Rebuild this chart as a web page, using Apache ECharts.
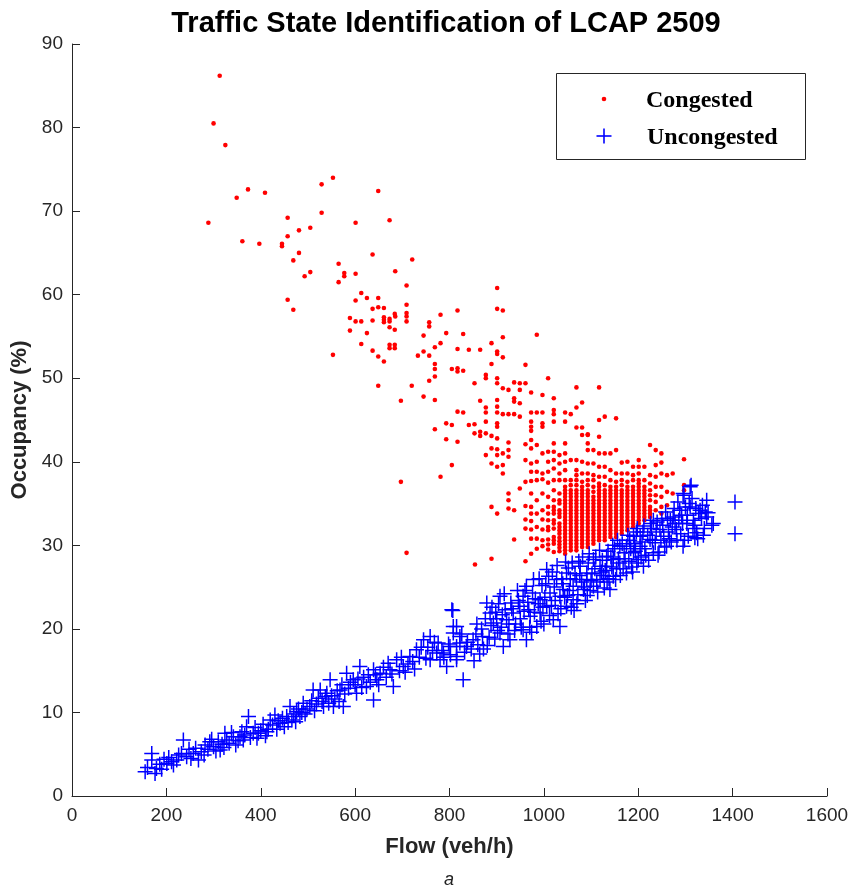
<!DOCTYPE html>
<html>
<head>
<meta charset="utf-8">
<script src="https://cdn.jsdelivr.net/npm/echarts@6/dist/echarts.min.js"></script>
<style>
  html, body { margin: 0; padding: 0; background: #fff; }
  #chart { width: 852px; height: 892px; }
</style>
</head>
<body>
<div id="chart"></div>
<script>
// tick labels
var flowTicks = [0, 200, 400, 600, 800, 1000, 1200, 1400, 1600];
var occTicks = [0, 10, 20, 30, 40, 50, 60, 70, 80, 90];
var legendNames = ['Congested', 'Uncongested'];

// congested points, scattered part [flow, occupancy]
var congestedSparse = [
  [313,86.2],[300,80.5],[325,77.9],[373,72.6],[349,71.6],[409,72.2],[289,68.6],[361,66.4],[397,66.1],
  [553,74.0],[529,73.2],[649,72.4],[457,69.2],[529,69.8],[601,68.6],[673,68.9],[481,67.7],[505,68.0],
  [457,67.0],[445,66.1],[445,65.8],[481,65.0],[469,64.1],[637,64.8],[721,64.2],[565,63.7],[685,62.8],
  [493,62.2],[505,62.7],[577,62.6],[577,62.2],[601,62.5],[565,61.5],[709,61.1],[901,60.8],[613,60.2],
  [457,59.4],[625,59.6],[649,59.6],[601,59.3],[709,58.8],[469,58.2],[637,58.3],[649,58.5],[661,58.4],
  [901,58.3],[913,58.1],[817,58.1],[781,57.6],[589,57.2],[601,56.8],[613,56.8],[637,56.9],[661,57.0],
  [673,57.1],[685,57.4],[709,57.4],[709,56.8],[709,57.8],
  [553,52.8],[589,55.7],[613,54.1],[625,55.4],[637,53.3],[649,52.6],[649,49.1],
  [661,57.3],[661,56.7],[684,57.7],[673,56.8],[673,56.1],[684,55.8],[673,54.0],[673,53.6],[684,54.0],
  [684,53.6],[661,52.0],[757,56.7],[757,56.2],[745,55.1],[793,55.4],[829,55.3],[913,54.9],[985,55.2],
  [781,54.2],[769,53.7],[745,53.2],[733,52.7],[757,52.7],[817,53.5],[841,53.4],[865,53.4],[889,54.2],
  [901,53.2],[901,52.9],[913,52.5],[889,51.7],[961,51.6],[769,51.7],[769,51.1],[757,49.7],[769,50.2],
  [805,51.1],[817,51.2],[817,50.8],[829,50.9],[720,49.1],[697,47.3],[745,47.8],[769,47.4],
  [853,49.4],[877,50.0],[877,50.4],[901,50.0],[901,49.4],[913,48.8],[925,48.6],[937,49.5],[949,49.4],
  [949,48.6],[961,49.4],[1009,50.0],[1069,48.9],[1117,48.9],
  [865,47.3],[877,46.5],[901,46.6],[901,47.4],[937,47.6],[937,47.2],[949,47.0],[973,48.3],[997,48.0],
  [1021,47.6],[1021,46.2],[1069,46.5],[1081,47.1],
  [817,46.0],[829,45.9],[877,45.9],[877,44.8],[901,45.9],[901,44.6],[901,44.2],[913,45.7],[925,45.7],
  [937,45.7],[949,45.4],[973,45.9],[973,44.8],[973,44.2],[973,43.7],[985,45.9],[997,45.9],[997,44.6],
  [997,44.2],[1021,45.7],[1021,44.8],[1045,45.9],[1045,44.8],[1057,45.7],[1069,44.1],[1081,44.1],
  [1081,43.2],[1093,43.3],[1117,45.0],[1129,45.4],[1153,45.2],
  [769,43.9],[793,44.6],[805,44.4],[793,42.7],[817,42.4],[805,39.6],[781,38.2],
  [841,44.4],[853,44.5],[853,43.4],[865,43.1],[865,43.6],[877,43.4],[889,43.1],[901,42.8],
  [901,41.5],[889,41.6],[901,40.8],[877,40.8],[889,39.8],[901,39.4],[913,39.6],
  [925,42.3],[925,41.4],[925,40.6],[913,41.0],[913,38.6],
  [709,29.1],[889,28.4],[697,37.6],[854,27.7],[889,34.6],[901,33.8],[925,36.2],[925,35.4],[925,34.4],
  [937,34.2],[949,36.8],[937,30.7]
];

// congested points, dense columns: flow of each column and its occupancies
var congestedColFlow = [961, 973, 985, 997, 1009, 1021, 1033, 1045, 1057, 1069, 1081, 1093, 1105,
  1117, 1129, 1141, 1153, 1165, 1177, 1189, 1201, 1213, 1225, 1237, 1249, 1261, 1273, 1297];
var congestedColOcc = [
  [42.1, 40.2, 37.6, 34.7, 33.1, 32.0, 28.1],
  [42.6, 41.6, 39.8, 38.8, 37.7, 36.2, 34.6, 33.8, 32.9, 31.9, 30.8, 29.0],
  [42.0, 40.0, 38.8, 37.8, 35.4, 33.8, 32.2, 30.8, 29.6],
  [41.0, 38.6, 37.9, 36.2, 34.2, 33.1, 31.9, 30.6, 29.9],
  [41.2, 40.0, 38.8, 37.5, 35.8, 34.6, 33.8, 33.0, 32.2, 31.8, 30.7, 30.1, 29.5],
  [42.2, 41.2, 40.2, 39.2, 37.8, 36.6, 35.4, 34.6, 34.2, 33.8, 33.0, 32.6, 32.0, 31.0, 30.6, 30.2, 29.2],
  [40.8, 39.8, 38.6, 37.8, 36.2, 35.4, 35.0, 34.2, 33.8, 33.4, 32.6, 32.2, 31.8, 31.4, 30.9, 30.5, 30.1, 29.7, 29.3],
  [42.2, 41.0, 40.0, 39.0, 37.8, 37.0, 36.6, 36.2, 35.8, 35.4, 35.0, 34.6, 34.2, 33.8, 33.4, 33.0, 32.6, 32.2, 31.8, 31.4, 31.0, 30.6, 30.2, 29.8, 29.4, 29.0],
  [40.2, 37.8, 37.2, 36.6, 36.2, 35.8, 35.4, 35.0, 34.6, 34.2, 33.8, 33.4, 33.0, 32.6, 32.2, 31.8, 31.4, 31.0, 30.6, 30.2, 29.8, 29.4],
  [40.2, 39.0, 38.4, 37.8, 37.2, 36.6, 36.2, 35.8, 35.4, 35.0, 34.6, 34.2, 33.8, 33.4, 33.0, 32.6, 32.2, 31.8, 31.4, 31.0, 30.6, 30.2, 29.8, 29.4],
  [40.0, 38.6, 37.6, 37.0, 36.6, 36.2, 35.8, 35.4, 35.0, 34.6, 34.2, 33.8, 33.4, 33.0, 32.6, 32.2, 31.8, 31.4, 31.0, 30.6, 30.2, 29.8],
  [43.2, 42.2, 41.4, 39.8, 38.6, 37.8, 37.2, 36.6, 36.2, 35.8, 35.4, 35.0, 34.6, 34.2, 33.8, 33.4, 33.0, 32.6, 32.2, 31.8, 31.4, 31.0, 30.6, 30.2, 29.8],
  [41.4, 39.8, 38.4, 37.8, 37.0, 36.4, 35.8, 35.4, 35.0, 34.6, 34.2, 33.8, 33.4, 33.0, 32.6, 32.2, 31.8, 31.4, 31.0, 30.6, 30.2],
  [43.0, 41.0, 39.4, 38.2, 37.4, 37.0, 36.6, 36.2, 35.8, 35.4, 35.0, 34.6, 34.2, 33.8, 33.4, 33.0, 32.6, 32.2, 31.8, 31.4, 31.0, 30.6],
  [41.0, 39.4, 38.2, 37.2, 36.6, 36.2, 35.8, 35.4, 35.0, 34.6, 34.2, 33.8, 33.4, 33.0, 32.6, 32.2, 31.8, 31.4, 31.0, 30.6],
  [41.0, 39.0, 37.8, 37.0, 36.6, 36.2, 35.8, 35.4, 35.0, 34.6, 34.2, 33.8, 33.4, 33.0, 32.6, 32.2, 31.8, 31.4, 31.0],
  [41.4, 38.6, 37.6, 37.0, 36.6, 36.2, 35.8, 35.4, 35.0, 34.6, 34.2, 33.8, 33.4, 33.0, 32.6, 32.2, 31.8, 31.4, 31.0],
  [39.9, 38.6, 37.8, 37.2, 36.6, 36.2, 35.8, 35.4, 35.0, 34.6, 34.2, 33.8, 33.4, 33.0, 32.6, 32.2, 31.8, 31.4],
  [40.0, 38.6, 37.6, 37.0, 36.6, 36.2, 35.8, 35.4, 35.0, 34.6, 34.2, 33.8, 33.4, 33.0, 32.6, 32.2, 31.8],
  [39.4, 38.4, 37.8, 37.0, 36.6, 36.2, 35.8, 35.4, 35.0, 34.6, 34.2, 33.8, 33.4, 33.0, 32.6, 32.2],
  [40.2, 39.4, 38.6, 37.8, 37.4, 37.0, 36.6, 36.2, 35.8, 35.4, 35.0, 34.6, 34.2, 33.8, 33.4, 33.0, 32.6],
  [39.4, 37.8, 37.0, 36.6, 36.2, 35.8, 35.4, 35.0, 34.6, 34.2, 33.8, 33.4, 33.0],
  [42.0, 38.4, 37.4, 36.6, 36.0, 35.4, 34.6, 34.2, 33.8, 33.4],
  [41.4, 39.6, 38.2, 37.0, 36.0, 35.2, 34.2],
  [41.0, 39.9, 38.6, 37.0, 35.8, 34.6, 33.8],
  [38.4, 36.4, 34.8],
  [38.6, 36.2],
  [40.3, 37.2, 36.6]
];

// uncongested points [flow, occupancy]
var uncongested = [
  [155,2.9],[169,5.1],[169,4.3],[179,3.3],[176,2.7],[201,3.9],[211,4.1],[222,4.3],[236,6.7],[232,5.1],
  [243,4.7],[257,5.1],[268,4.3],[282,6.1],[292,6.5],[300,5.9],[314,5.5],[310,6.5],[324,7.5],[328,6.7],
  [342,7.1],[356,7.1],[363,6.7],[374,9.5],[370,8.3],[384,7.5],[395,7.5],[413,7.7],[420,9.1],[430,9.7],
  [441,8.7],[455,9.5],[462,10.7],[476,10.1],[490,11.1],[483,9.5],[504,10.7],[511,12.7],[526,12.7],
  [540,12.3],[547,13.9],[533,10.7],[554,10.7],[568,12.7],[575,10.7],[582,14.7],[596,13.9],[610,15.5],
  [603,12.3],[624,13.1],[639,15.1],[646,13.9],[639,11.5],[653,14.7],[674,15.1],[688,16.3],[681,13.1],
  [702,15.5],[716,16.7],[730,17.5],[745,18.7],[759,19.1],[759,16.3],[773,17.1],[780,16.3],[794,15.5],
  [805,22.3],[808,20.3],[815,17.9],[815,16.7],
  [160,3.4],[186,3.8],[190,3.2],[195,4.4],[205,4.6],[215,3.7],[226,4.9],[248,5.6],[252,4.5],[262,5.7],
  [274,5.3],[280,4.9],[288,5.6],[296,6.8],[305,5.4],[318,6.2],[322,5.8],[333,6.3],[338,7.6],[347,6.1],
  [352,6.6],[360,7.7],[366,7.3],[378,7.0],[388,8.2],[392,6.9],[400,7.8],[405,8.6],[410,7.2],[416,8.0],
  [425,8.5],[434,8.0],[437,9.0],[446,9.3],[450,8.3],[458,8.8],[466,9.1],[470,9.8],[474,8.9],[480,10.4],
  [487,10.0],[494,9.8],[498,10.4],[508,11.4],[514,10.2],[518,11.0],[522,11.7],[530,11.3],[537,11.9],
  [544,11.1],[550,12.0],[557,11.6],[562,12.6],[566,11.3],[572,13.3],[578,12.2],[586,12.9],[590,13.6],
  [600,13.3],[606,14.0],[614,13.0],[618,14.2],[628,14.5],[632,13.6],[643,14.5],[650,13.3],[660,15.4],
  [666,14.2],[670,15.9],[678,14.6],[694,15.0],[698,16.6],[706,14.8],[712,15.8],[722,16.1],[726,15.2],
  [736,16.6],[740,17.8],[750,16.5],[754,17.8],[764,17.4],[768,18.4],[776,18.3],[784,17.4],[788,16.6],
  [798,18.2],[802,16.9],[822,18.3],[826,19.4],[832,17.2],[838,18.4],[846,17.6],[856,19.4],[860,18.1],
  [868,20.0],[872,17.6],[876,21.2],[884,19.0],[890,22.6],[896,18.8],[900,21.2],[904,23.0],[910,20.2],
  [918,22.3],[924,19.4],[930,23.1],[940,20.6],[944,24.6],[950,21.2],[958,22.1],[966,23.2],[970,20.2],
  [976,24.3],[980,22.0],[988,23.0],[996,25.2],[1000,20.6],[1002,23.8],[1010,26.3],[1016,22.8],
  [1022,25.0],[1030,21.8],[1038,26.0],[1044,23.8],[1052,27.3],[1054,24.6],[1058,22.6],[1066,26.6],
  [1072,24.1],[1074,28.1],[1080,25.6],[1088,23.4],[1094,27.9],[1098,24.6],[1102,26.6],[1110,28.6],
  [1112,25.6],[1124,28.2],[1126,26.4],[1128,24.9],[1136,29.3],[1138,26.0],[1144,27.4],[1150,29.6],
  [1152,25.9],[1158,28.4],[1166,30.2],[1168,27.2],[1170,29.1],[1180,28.1],[1182,30.6],[1186,27.4],
  [1194,29.3],[1196,31.6],[1200,28.3],[1208,30.4],[1212,32.3],[1216,28.8],[1220,31.2],[1228,32.0],
  [1236,30.3],[1240,32.8],[1244,29.2],[1250,33.2],[1254,31.1],[1258,34.0],[1264,31.6],[1268,33.0],
  [1270,30.4],[1278,32.6],[1284,35.2],[1290,31.4],[1292,33.6],[1300,34.6],[1306,31.1],[1314,35.6],
  [1320,32.4],[1328,33.8],[1336,34.8],[1340,32.0],
  [807,22.2],[815,20.3],[808,19.5],[801,17.9],[787,17.1],[829,13.9],[815,16.3],[836,17.9],[850,18.7],
  [822,19.1],[879,23.1],[886,21.9],[893,20.7],[907,19.5],[914,17.9],[928,18.7],[921,21.1],[907,23.9],
  [935,21.9],[949,22.7],[956,23.9],[956,19.9],[963,18.7],[971,21.5],[985,20.3],[992,21.9],[1006,22.7],
  [1013,24.3],[1020,21.1],[1034,20.3],[1027,25.9],[1041,24.7],[1048,22.7],[1062,23.5],[1069,25.9],
  [1084,24.7],[1091,26.7],[1105,25.1],[1119,25.9],[1133,27.5],[1140,24.7],[1147,26.3],[1161,27.9],
  [1175,26.7],[1190,29.1],[1197,27.9],[1204,29.9],[1211,27.5],[1225,30.7],[1232,29.1],[1246,31.9],
  [1260,29.9],[1274,33.4],[1281,31.9],[1288,34.2],[1295,29.9],[1303,32.6],[1310,34.6],[1317,33.0],
  [1324,31.5],[1331,34.2],[1345,35.4],[1345,33.4],[1359,32.6],[1405,35.2],[1405,31.4],[1310,37.0],
  [1295,36.2],[1232,33.0],[1204,31.1],[1175,29.9],[1147,28.3],[1119,27.5],[1091,25.9],[1062,25.1],
  [1034,23.9],[992,23.5],[963,25.1],[1006,27.1],[978,25.9],[1077,27.5],[1048,26.7],[1105,28.3],
  [1133,28.7],[1161,29.9],[1190,31.1],[1312,37.2],[1356,32.4],[1297,36.0],[1348,33.9],[1320,30.9],
  [852,16.2],[858,20.6],[864,17.0],[870,19.1],[880,18.0],[888,20.4],[898,22.0],[902,19.8],[912,21.7],
  [916,24.2],[926,20.6],[932,22.4],[938,19.8],[946,23.4],[952,20.2],[960,24.6],[968,22.3],[974,19.6],
  [982,23.6],[990,26.0],[994,20.9],[998,22.6],[1004,25.4],[1012,21.6],[1018,26.8],[1024,23.4],
  [1028,27.6],[1036,22.4],[1040,25.4],[1046,28.0],[1050,24.0],[1056,26.0],[1060,27.9],[1064,22.2],
  [1070,23.0],[1076,26.4],[1082,28.6],[1086,25.0],[1092,24.0],[1096,29.0],[1100,25.8],[1108,27.2],
  [1114,24.4],[1118,29.4],[1122,26.8],[1130,27.0],[1134,25.6],[1142,28.6],[1146,30.0],[1154,27.2],
  [1156,30.6],[1162,26.4],[1172,28.4],[1178,31.2],[1184,29.6],[1188,26.8],[1192,30.2],[1198,32.0],
  [1206,28.6],[1210,31.6],[1214,29.6],[1222,28.2],[1226,32.6],[1230,30.6],[1238,31.6],[1242,28.8],
  [1248,30.6],[1252,32.4],[1256,29.8],[1262,33.2],[1266,30.8],[1272,32.2],[1276,34.4],[1282,30.6],
  [1286,33.0],[1294,32.6],[1298,30.6],[1304,33.6],[1308,35.0],[1316,32.0],[1322,34.4],[1326,30.8],
  [1334,33.2],[1338,31.2],[1342,34.0]
];

var congested = congestedSparse.slice();
congestedColFlow.forEach(function (f, i) {
  congestedColOcc[i].forEach(function (o) { congested.push([f, o]); });
});

var plus = 'path://M9,0H11V9H20V11H11V20H9V11H0V9H9Z';
var red = '#ff0000';
var blue = '#0000ff';
var axisColor = '#262626';
var sans = 'Liberation Sans, Arial, sans-serif';
var serif = 'Liberation Serif, Times New Roman, serif';
var legendFont = { fontFamily: serif, fontWeight: 'bold', fontSize: 24, fill: '#000', verticalAlign: 'middle' };

var myChart = echarts.init(document.getElementById('chart'));
var option = {
  animation: false,
  backgroundColor: '#fff',
  title: [
    {
      text: 'Traffic State Identification of LCAP 2509',
      left: 441, top: 4, textAlign: 'center',
      textStyle: { fontFamily: sans, fontSize: 29, fontWeight: 'bold', color: '#000' }
    },
    {
      text: 'a',
      left: 444, top: 866, textAlign: 'center',
      textStyle: { fontFamily: sans, fontSize: 18, fontWeight: 'normal', fontStyle: 'italic', color: '#222' }
    }
  ],
  // legend box drawn by hand so the two markers can have different sizes
  graphic: [
    { type: 'rect', z: 3, shape: { x: 556.5, y: 73.5, width: 249, height: 86 },
      style: { fill: '#fff', stroke: axisColor, lineWidth: 1 } },
    { type: 'circle', z: 4, shape: { cx: 604, cy: 99, r: 2.3 }, style: { fill: red } },
    { type: 'rect', z: 4, shape: { x: 603.2, y: 128.5, width: 1.6, height: 15 }, style: { fill: blue } },
    { type: 'rect', z: 4, shape: { x: 596.5, y: 135.2, width: 15, height: 1.6 }, style: { fill: blue } },
    { type: 'text', z: 4, x: 646, y: 101, style: Object.assign({ text: legendNames[0] }, legendFont) },
    { type: 'text', z: 4, x: 647, y: 138, style: Object.assign({ text: legendNames[1] }, legendFont) }
  ],
  grid: { left: 72, right: 25, top: 44, bottom: 96, outerBoundsMode: 'none', containLabel: false },
  xAxis: {
    type: 'value', min: flowTicks[0], max: flowTicks[flowTicks.length - 1], interval: 200,
    name: 'Flow (veh/h)', nameLocation: 'middle', nameGap: 40,
    nameTextStyle: { fontFamily: sans, fontSize: 22, fontWeight: 'bold', color: axisColor },
    axisLine: { show: true, lineStyle: { color: axisColor, width: 1 } },
    axisTick: { show: true, inside: true, length: 8, lineStyle: { color: axisColor } },
    axisLabel: { fontFamily: sans, fontSize: 19, color: axisColor, margin: 10,
      formatter: function (v) { return String(v); } },
    splitLine: { show: false }
  },
  yAxis: {
    type: 'value', min: occTicks[0], max: occTicks[occTicks.length - 1], interval: 10,
    name: 'Occupancy (%)', nameLocation: 'middle', nameGap: 39,
    nameTextStyle: { fontFamily: sans, fontSize: 22, fontWeight: 'bold', color: axisColor },
    axisLine: { show: true, lineStyle: { color: axisColor, width: 1 } },
    axisTick: { show: true, inside: true, length: 8, lineStyle: { color: axisColor } },
    axisLabel: { fontFamily: sans, fontSize: 19, color: axisColor, margin: 9,
      formatter: function (v) { return String(v); } },
    splitLine: { show: false }
  },
  series: [
    {
      name: legendNames[0], type: 'scatter', symbol: 'circle', symbolSize: 4.6,
      itemStyle: { color: red, opacity: 1 },
      data: congested
    },
    {
      name: legendNames[1], type: 'scatter', symbol: plus, symbolSize: 15,
      itemStyle: { color: blue, opacity: 1 },
      data: uncongested
    }
  ]
};
myChart.setOption(option);
window.onresize = function () { myChart.resize(); };
</script>
</body>
</html>
